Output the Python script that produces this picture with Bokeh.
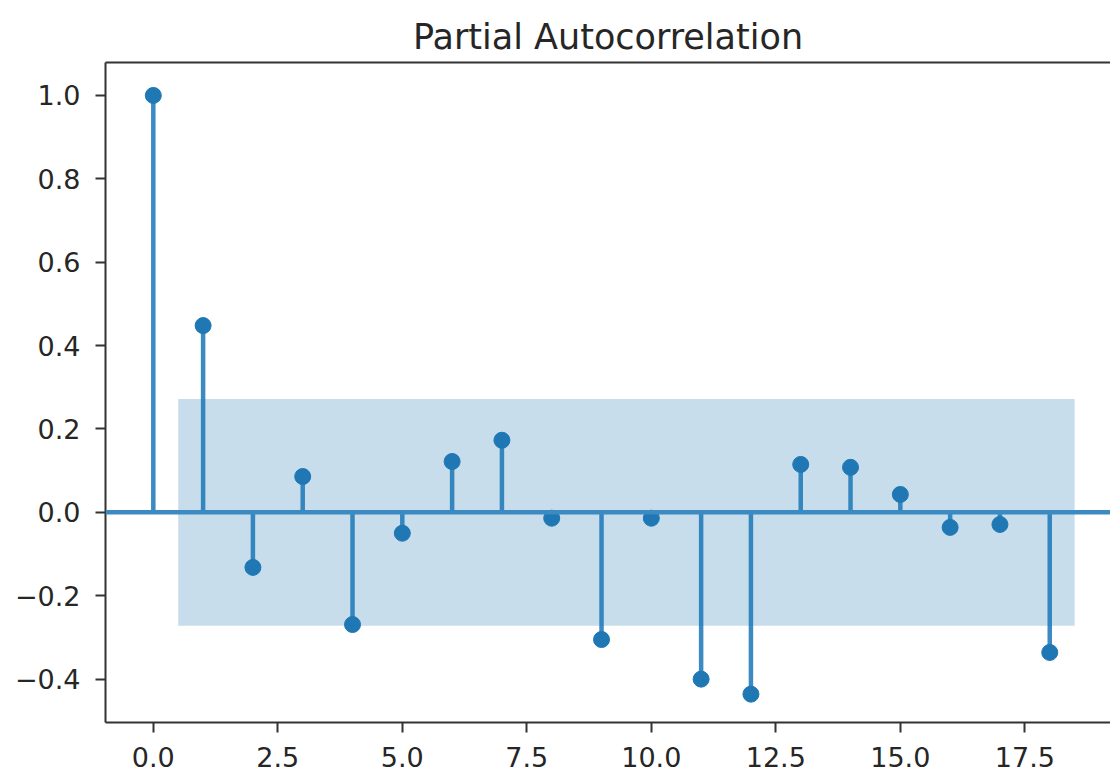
from bokeh.plotting import figure
from bokeh.models import (FixedTicker, CustomJSTickFormatter, Span, LinearAxis,
                          ColumnDataSource, Range1d)
from bokeh.embed import file_html
from bokeh.resources import INLINE

# ---- data ----
lags = list(range(19))
pacf = [1.0, 0.448, -0.132, 0.086, -0.269, -0.050, 0.122, 0.173, -0.014, -0.305,
        -0.014, -0.400, -0.436, 0.115, 0.108, 0.043, -0.036, -0.029, -0.336]
conf = 0.272
x_ticks = [0.0, 2.5, 5.0, 7.5, 10.0, 12.5, 15.0, 17.5]
y_ticks = [-0.4, -0.2, 0.0, 0.2, 0.4, 0.6, 0.8, 1.0]
title = "Partial Autocorrelation"

C0 = "#1f77b4"
FONT = "DejaVu Sans"

p = figure(width=1110, height=774, output_backend="svg", toolbar_location=None,
           x_range=Range1d(-0.96, 19.22), y_range=Range1d(-0.504, 1.079),
           min_border_left=105, min_border_right=0, min_border_top=62,
           min_border_bottom=52, title=title)
p.background_fill_color = "white"
p.border_fill_color = "white"
p.outline_line_color = None
p.xgrid.visible = False
p.ygrid.visible = False

p.title.align = "center"
p.title.offset = 6
p.title.text_font = FONT
p.title.text_font_size = "35px"
p.title.text_font_style = "normal"
p.title.text_color = "#262626"
p.title.standoff = 12

fmt = CustomJSTickFormatter(code="return tick.toFixed(1).replace('-', '\u2212');")
for ax, ticks, standoff in ((p.xaxis[0], x_ticks, 14), (p.yaxis[0], y_ticks, 15)):
    ax.ticker = FixedTicker(ticks=ticks)
    ax.formatter = fmt
    ax.minor_tick_line_color = None
    ax.major_tick_in = 0
    ax.major_tick_out = 10
    ax.major_tick_line_color = "#333333"
    ax.major_tick_line_width = 2
    ax.axis_line_color = "#333333"
    ax.axis_line_width = 2
    ax.major_label_text_font = FONT
    ax.major_label_text_font_size = "27px"
    ax.major_label_text_color = "#262626"
    ax.major_label_standoff = standoff

# top spine
top = LinearAxis(ticker=FixedTicker(ticks=[]), axis_line_color="#333333",
                 axis_line_width=2, major_tick_line_color=None,
                 minor_tick_line_color=None, major_label_text_color=None,
                 major_label_text_font_size="0px")
p.add_layout(top, "above")

# stems
src = ColumnDataSource(dict(x=lags, y=pacf, y0=[0] * len(lags)))
p.segment(x0="x", y0="y0", x1="x", y1="y", source=src, line_color="#3b8bc2",
          line_width=4.5)
p.scatter(x="x", y="y", source=src, size=16, fill_color=C0, line_color=C0)

# zero line
p.add_layout(Span(location=0, dimension="width", line_color="#3b8bc2", line_width=4.5))

# confidence band (as statsmodels does: lags 1..n, ends widened by 0.5)
bx = [float(v) for v in lags[1:]]
bx[0] -= 0.5
bx[-1] += 0.5
p.varea(x=bx, y1=[-conf] * len(bx), y2=[conf] * len(bx), fill_color=C0, fill_alpha=0.25)

open("out.html", "w").write(file_html(p, INLINE))
